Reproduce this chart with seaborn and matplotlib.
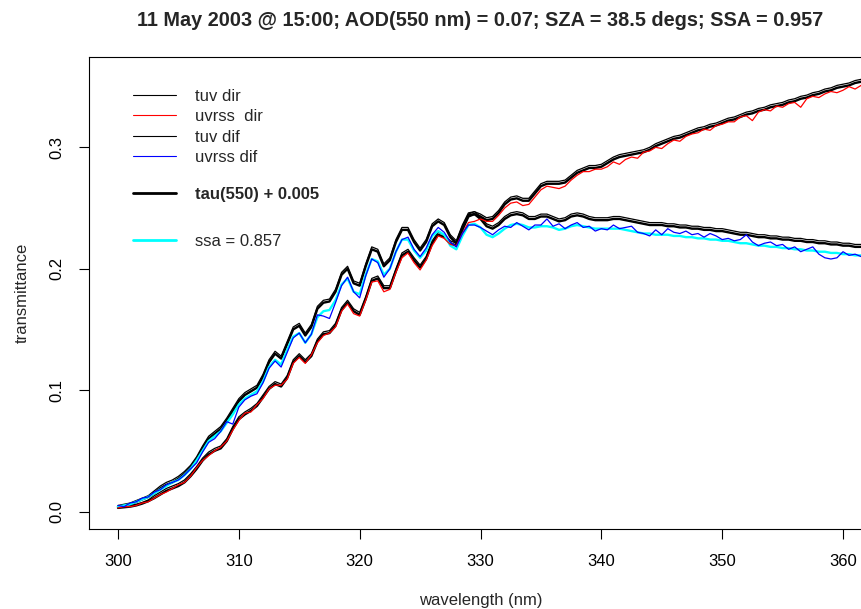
import numpy as np
import pandas as pd
import seaborn as sns
import matplotlib.pyplot as plt
from matplotlib.lines import Line2D

# wavelength grid (nm), 0.5 nm steps
wavelength = np.arange(300.0, 363.0, 0.5)

# direct transmittance
tuv_dir = [
    0.004, 0.0045, 0.005, 0.006, 0.0075, 0.0095, 0.013, 0.016, 0.019, 0.021,
    0.023, 0.026, 0.031, 0.037, 0.044, 0.049, 0.052, 0.054, 0.060, 0.070,
    0.078, 0.082, 0.085, 0.089, 0.096, 0.103, 0.107, 0.105, 0.112, 0.125,
    0.130, 0.125, 0.130, 0.142, 0.148, 0.149, 0.155, 0.168, 0.174, 0.167,
    0.164, 0.177, 0.192, 0.194, 0.186, 0.186, 0.200, 0.213, 0.216, 0.209,
    0.203, 0.210, 0.223, 0.230, 0.228, 0.223, 0.221, 0.234, 0.245, 0.247,
    0.245, 0.242, 0.243, 0.248, 0.255, 0.259, 0.260, 0.258, 0.258, 0.264,
    0.270, 0.272, 0.272, 0.272, 0.273, 0.277, 0.281, 0.283, 0.285, 0.285,
    0.286, 0.289, 0.292, 0.294, 0.295, 0.296, 0.297, 0.298, 0.300, 0.303,
    0.305, 0.307, 0.309, 0.310, 0.312, 0.314, 0.316, 0.317, 0.319, 0.320,
    0.322, 0.324, 0.325, 0.327, 0.329, 0.330, 0.332, 0.333, 0.335, 0.336,
    0.337, 0.339, 0.340, 0.342, 0.343, 0.345, 0.346, 0.348, 0.349, 0.351,
    0.352, 0.353, 0.355, 0.356, 0.358, 0.359]
tau_dir = [
    0.003, 0.0035, 0.004, 0.005, 0.0065, 0.0085, 0.011, 0.014, 0.017, 0.019,
    0.021, 0.024, 0.029, 0.035, 0.042, 0.047, 0.050, 0.052, 0.058, 0.068,
    0.076, 0.080, 0.083, 0.087, 0.094, 0.101, 0.105, 0.103, 0.110, 0.123,
    0.128, 0.123, 0.128, 0.140, 0.146, 0.147, 0.153, 0.166, 0.172, 0.165,
    0.162, 0.175, 0.190, 0.192, 0.184, 0.184, 0.198, 0.211, 0.214, 0.207,
    0.201, 0.208, 0.221, 0.228, 0.226, 0.221, 0.219, 0.232, 0.243, 0.245,
    0.243, 0.240, 0.241, 0.246, 0.253, 0.257, 0.258, 0.256, 0.256, 0.262,
    0.268, 0.270, 0.270, 0.270, 0.271, 0.275, 0.279, 0.281, 0.283, 0.283,
    0.284, 0.287, 0.290, 0.292, 0.293, 0.294, 0.295, 0.296, 0.298, 0.301,
    0.303, 0.305, 0.307, 0.308, 0.310, 0.312, 0.314, 0.315, 0.317, 0.318,
    0.320, 0.322, 0.323, 0.325, 0.327, 0.328, 0.330, 0.331, 0.333, 0.334,
    0.335, 0.337, 0.338, 0.340, 0.341, 0.343, 0.344, 0.346, 0.347, 0.349,
    0.350, 0.351, 0.353, 0.354, 0.356, 0.357]
uvrss_dir = [
    0.003, 0.004, 0.004, 0.005, 0.007, 0.008, 0.011, 0.014, 0.016, 0.019,
    0.022, 0.024, 0.029, 0.036, 0.042, 0.046, 0.050, 0.053, 0.058, 0.067,
    0.075, 0.081, 0.082, 0.088, 0.093, 0.101, 0.104, 0.104, 0.109, 0.122,
    0.127, 0.122, 0.129, 0.139, 0.145, 0.147, 0.152, 0.165, 0.171, 0.163,
    0.161, 0.174, 0.189, 0.190, 0.181, 0.183, 0.197, 0.209, 0.213, 0.205,
    0.199, 0.207, 0.219, 0.227, 0.225, 0.220, 0.219, 0.229, 0.238, 0.239,
    0.241, 0.239, 0.239, 0.244, 0.250, 0.254, 0.255, 0.252, 0.253, 0.259,
    0.265, 0.268, 0.267, 0.266, 0.268, 0.273, 0.277, 0.280, 0.280, 0.282,
    0.282, 0.284, 0.288, 0.286, 0.290, 0.292, 0.291, 0.296, 0.297, 0.300,
    0.299, 0.303, 0.306, 0.305, 0.309, 0.311, 0.312, 0.315, 0.314, 0.318,
    0.319, 0.321, 0.321, 0.325, 0.326, 0.322, 0.329, 0.331, 0.330, 0.334,
    0.333, 0.336, 0.337, 0.333, 0.340, 0.342, 0.341, 0.344, 0.346, 0.345,
    0.347, 0.350, 0.348, 0.351, 0.353, 0.355]

# diffuse transmittance
tuv_dif = [
    0.005, 0.006, 0.007, 0.009, 0.011, 0.013, 0.017, 0.021, 0.024, 0.026,
    0.029, 0.033, 0.038, 0.045, 0.054, 0.062, 0.066, 0.070, 0.077, 0.085,
    0.093, 0.098, 0.101, 0.104, 0.113, 0.125, 0.132, 0.128, 0.140, 0.152,
    0.155, 0.147, 0.154, 0.169, 0.174, 0.175, 0.183, 0.197, 0.202, 0.190,
    0.188, 0.204, 0.218, 0.216, 0.204, 0.209, 0.224, 0.234, 0.234, 0.224,
    0.217, 0.224, 0.237, 0.241, 0.238, 0.228, 0.223, 0.236, 0.246, 0.247,
    0.243, 0.237, 0.235, 0.238, 0.243, 0.246, 0.247, 0.246, 0.243, 0.243,
    0.245, 0.245, 0.243, 0.241, 0.242, 0.245, 0.246, 0.245, 0.243, 0.242,
    0.242, 0.242, 0.243, 0.243, 0.242, 0.241, 0.240, 0.239, 0.238, 0.238,
    0.238, 0.237, 0.237, 0.236, 0.236, 0.235, 0.235, 0.234, 0.234, 0.233,
    0.233, 0.232, 0.231, 0.230, 0.230, 0.229, 0.228, 0.228, 0.227, 0.227,
    0.226, 0.226, 0.225, 0.225, 0.224, 0.224, 0.223, 0.223, 0.222, 0.222,
    0.221, 0.221, 0.220, 0.220, 0.219, 0.219]
tau_dif = [
    0.004, 0.005, 0.006, 0.008, 0.010, 0.012, 0.015, 0.019, 0.022, 0.024,
    0.027, 0.031, 0.036, 0.043, 0.052, 0.060, 0.064, 0.068, 0.075, 0.083,
    0.091, 0.096, 0.099, 0.102, 0.111, 0.123, 0.130, 0.126, 0.138, 0.150,
    0.153, 0.145, 0.152, 0.167, 0.172, 0.173, 0.181, 0.195, 0.200, 0.188,
    0.186, 0.202, 0.216, 0.214, 0.202, 0.207, 0.222, 0.232, 0.232, 0.222,
    0.215, 0.222, 0.235, 0.239, 0.236, 0.226, 0.221, 0.234, 0.244, 0.245,
    0.241, 0.235, 0.233, 0.236, 0.241, 0.244, 0.245, 0.244, 0.241, 0.241,
    0.243, 0.243, 0.241, 0.239, 0.240, 0.243, 0.244, 0.243, 0.241, 0.240,
    0.240, 0.240, 0.241, 0.241, 0.240, 0.239, 0.238, 0.237, 0.236, 0.236,
    0.236, 0.235, 0.235, 0.234, 0.234, 0.233, 0.233, 0.232, 0.232, 0.231,
    0.231, 0.230, 0.229, 0.228, 0.228, 0.227, 0.226, 0.226, 0.225, 0.225,
    0.224, 0.224, 0.223, 0.223, 0.222, 0.222, 0.221, 0.221, 0.220, 0.220,
    0.219, 0.219, 0.218, 0.218, 0.217, 0.217]
ssa_dif = [
    0.004, 0.005, 0.006, 0.008, 0.010, 0.012, 0.015, 0.018, 0.021, 0.024,
    0.026, 0.030, 0.035, 0.042, 0.050, 0.058, 0.062, 0.066, 0.073, 0.080,
    0.088, 0.093, 0.096, 0.099, 0.107, 0.119, 0.125, 0.121, 0.133, 0.144,
    0.147, 0.139, 0.146, 0.160, 0.165, 0.166, 0.174, 0.187, 0.192, 0.181,
    0.179, 0.195, 0.208, 0.206, 0.195, 0.200, 0.214, 0.224, 0.224, 0.215,
    0.209, 0.215, 0.227, 0.231, 0.228, 0.219, 0.216, 0.227, 0.236, 0.237,
    0.234, 0.228, 0.226, 0.229, 0.233, 0.236, 0.237, 0.236, 0.234, 0.234,
    0.235, 0.235, 0.234, 0.232, 0.233, 0.235, 0.236, 0.235, 0.234, 0.233,
    0.233, 0.233, 0.233, 0.233, 0.232, 0.231, 0.230, 0.229, 0.229, 0.228,
    0.228, 0.228, 0.227, 0.227, 0.226, 0.226, 0.225, 0.225, 0.224, 0.224,
    0.223, 0.223, 0.222, 0.221, 0.221, 0.220, 0.219, 0.219, 0.218, 0.218,
    0.217, 0.217, 0.216, 0.216, 0.215, 0.215, 0.214, 0.214, 0.213, 0.213,
    0.212, 0.212, 0.211, 0.211, 0.210, 0.210]
uvrss_dif = [
    0.005, 0.004, 0.007, 0.008, 0.011, 0.012, 0.016, 0.018, 0.022, 0.024,
    0.026, 0.030, 0.035, 0.040, 0.049, 0.057, 0.060, 0.066, 0.074, 0.072,
    0.086, 0.092, 0.095, 0.097, 0.106, 0.118, 0.124, 0.119, 0.131, 0.143,
    0.147, 0.139, 0.146, 0.162, 0.161, 0.159, 0.172, 0.186, 0.193, 0.181,
    0.176, 0.194, 0.208, 0.205, 0.193, 0.200, 0.214, 0.224, 0.226, 0.216,
    0.210, 0.217, 0.228, 0.234, 0.230, 0.222, 0.218, 0.229, 0.236, 0.236,
    0.234, 0.231, 0.228, 0.232, 0.235, 0.234, 0.238, 0.235, 0.232, 0.236,
    0.236, 0.241, 0.235, 0.237, 0.233, 0.236, 0.238, 0.234, 0.235, 0.231,
    0.233, 0.232, 0.236, 0.233, 0.234, 0.235, 0.230, 0.229, 0.227, 0.232,
    0.228, 0.233, 0.230, 0.229, 0.231, 0.228, 0.229, 0.226, 0.229, 0.227,
    0.224, 0.225, 0.223, 0.224, 0.228, 0.222, 0.219, 0.221, 0.222, 0.219,
    0.220, 0.216, 0.218, 0.214, 0.216, 0.218, 0.212, 0.209, 0.208, 0.209,
    0.214, 0.211, 0.212, 0.210, 0.209, 0.208]

x_ticks = [300, 310, 320, 330, 340, 350, 360]
y_ticks = [0.0, 0.1, 0.2, 0.3]
y_tick_labels = ['0.0', '0.1', '0.2', '0.3']

title = '11 May 2003 @ 15:00; AOD(550 nm) = 0.07; SZA = 38.5 degs; SSA = 0.957'

sns.set_style('white')
plt.rcParams['font.family'] = ['Liberation Sans', 'DejaVu Sans']

df = pd.DataFrame({'wl': wavelength,
                   'tuv_dir': tuv_dir, 'tau_dir': tau_dir, 'uvrss_dir': uvrss_dir,
                   'tuv_dif': tuv_dif, 'tau_dif': tau_dif, 'ssa_dif': ssa_dif,
                   'uvrss_dif': uvrss_dif})

fig = plt.figure(figsize=(8.62, 6.09), dpi=100)
# plot box runs slightly past the right edge, like the cropped original
ax = fig.add_axes([89 / 862, 80 / 609, 783 / 862, 472 / 609])

# model curves first, measurements on top
sns.lineplot(data=df, x='wl', y='tau_dir', ax=ax, color='black', lw=1.7)
sns.lineplot(data=df, x='wl', y='tuv_dir', ax=ax, color='black', lw=0.9)
sns.lineplot(data=df, x='wl', y='tau_dif', ax=ax, color='black', lw=1.7)
sns.lineplot(data=df, x='wl', y='tuv_dif', ax=ax, color='black', lw=0.9)
sns.lineplot(data=df, x='wl', y='ssa_dif', ax=ax, color='#00FFFF', lw=1.7)
sns.lineplot(data=df, x='wl', y='uvrss_dir', ax=ax, color='#FF0000', lw=0.9)
sns.lineplot(data=df, x='wl', y='uvrss_dif', ax=ax, color='#0000FF', lw=0.9)

ax.set_xlim(297.6, 362.4)
ax.set_ylim(-0.0144, 0.3744)
ax.set_xticks(x_ticks)
ax.set_yticks(y_ticks)
ax.set_yticklabels(y_tick_labels, rotation=90, va='center')
ax.tick_params(axis='both', direction='out', length=7, width=0.8,
               labelsize=12, pad=11, colors='black', bottom=True, left=True)
for sp in ax.spines.values():
    sp.set_color('black')
    sp.set_linewidth(0.8)

ax.set_xlabel('wavelength (nm)', fontsize=12, labelpad=17)
ax.set_ylabel('transmittance', fontsize=12, labelpad=14)
ax.set_title(title, fontsize=14.3, fontweight='bold', pad=22)

# legends (no frame), three blocks as in the original
fs = 12
h1 = [Line2D([], [], color='black', lw=0.8),
      Line2D([], [], color='#FF0000', lw=0.8),
      Line2D([], [], color='black', lw=0.8),
      Line2D([], [], color='#0000FF', lw=0.8)]
leg1 = ax.legend(h1, ['tuv dir', 'uvrss  dir', 'tuv dif', 'uvrss dif'],
                 loc='center left', bbox_to_anchor=(133 / 862, 1 - 127 / 609),
                 bbox_transform=fig.transFigure, frameon=False, fontsize=fs,
                 borderpad=0, borderaxespad=0, handlelength=2.6,
                 handletextpad=1.1, labelspacing=0.33)
ax.add_artist(leg1)
leg2 = ax.legend([Line2D([], [], color='black', lw=2)], ['tau(550) + 0.005'],
                 loc='center left', bbox_to_anchor=(133 / 862, 1 - 194 / 609),
                 bbox_transform=fig.transFigure, frameon=False, fontsize=fs,
                 borderpad=0, borderaxespad=0, handlelength=2.6,
                 handletextpad=1.1, prop={'size': fs, 'weight': 'bold'})
ax.add_artist(leg2)
ax.legend([Line2D([], [], color='#00FFFF', lw=2)], ['ssa = 0.857'],
          loc='center left', bbox_to_anchor=(133 / 862, 1 - 241.5 / 609),
          bbox_transform=fig.transFigure, frameon=False, fontsize=fs,
          borderpad=0, borderaxespad=0, handlelength=2.6, handletextpad=1.1)

fig.savefig('out.png', dpi=100)
